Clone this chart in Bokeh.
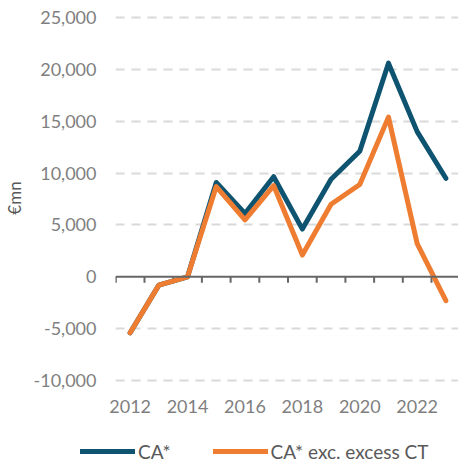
from bokeh.plotting import figure
from bokeh.models import (Range1d, FixedTicker, NumeralTickFormatter,
                          Legend, LegendItem, Span)
from bokeh.embed import file_html
from bokeh.resources import INLINE

years = [2012, 2013, 2014, 2015, 2016, 2017, 2018, 2019, 2020, 2021, 2022, 2023]
ca = [-5400, -800, 0, 9100, 6100, 9650, 4600, 9400, 12100, 20600, 14000, 9500]
ca_exc = [-5400, -800, 0, 8700, 5500, 8800, 2100, 7000, 8900, 15400, 3200, -2300]
label_years = [2012, 2014, 2016, 2018, 2020, 2022]
y_ticks = [-10000, -5000, 0, 5000, 10000, 15000, 20000, 25000]
names = ["CA*", "CA* exc. excess CT"]
colors = ["#0e5470", "#ee7d31"]

FONT = "Lato"
TICK_COLOR = "#7f7f7f"
TEXT_COLOR = "#595959"
AXIS_COLOR = "#666666"

Y_MIN, Y_MAX = -10480, 25680
FRAME_H = 375
units_per_px = (Y_MAX - Y_MIN) / FRAME_H

p = figure(width=458, height=420, output_backend="svg",
           toolbar_location=None,
           x_range=Range1d(years[0] - 0.51, years[-1] + 0.44),
           y_range=Range1d(Y_MIN, Y_MAX),
           min_border_left=107, min_border_right=0, min_border_top=10,
           min_border_bottom=35)
p.outline_line_color = None
p.background_fill_color = "white"
p.border_fill_color = "white"

# y axis
ya = p.yaxis[0]
ya.ticker = FixedTicker(ticks=y_ticks)
ya.formatter = NumeralTickFormatter(format="0,0")
ya.axis_line_color = None
ya.major_tick_line_color = None
ya.minor_tick_line_color = None
ya.major_label_text_font = FONT
ya.major_label_text_font_size = "18px"
ya.major_label_text_color = TICK_COLOR
ya.major_label_standoff = 13
ya.axis_label = "€mn"
ya.axis_label_text_font = FONT
ya.axis_label_text_font_size = "17px"
ya.axis_label_text_font_style = "normal"
ya.axis_label_text_color = TEXT_COLOR
ya.axis_label_standoff = 6

p.ygrid.ticker = FixedTicker(ticks=[t for t in y_ticks if t != 0])
p.ygrid.grid_line_color = "#d9d9d9"
p.ygrid.grid_line_width = 2
p.ygrid.grid_line_dash = "9 7"
p.xgrid.grid_line_color = None

# x axis labels (bottom)
xa = p.xaxis[0]
xa.ticker = FixedTicker(ticks=label_years)
xa.axis_line_color = None
xa.major_tick_line_color = None
xa.minor_tick_line_color = None
xa.major_label_text_font = FONT
xa.major_label_text_font_size = "18px"
xa.major_label_text_color = TICK_COLOR
xa.major_label_standoff = 8

# zero line with category boundary ticks
p.add_layout(Span(location=0, dimension="width", line_color=AXIS_COLOR,
                  line_width=2))
bounds = [y - 0.5 for y in years] + [years[-1] + 0.5]
p.segment(x0=bounds, y0=[0] * len(bounds), x1=bounds,
          y1=[-6 * units_per_px] * len(bounds), line_color=AXIS_COLOR,
          line_width=2)

line_style = dict(line_width=5, line_join="round", line_cap="round")
p.line(years, ca, line_color=colors[0], **line_style)
p.line(years, ca_exc, line_color=colors[1], **line_style)

# legend strip (its own small figure, lines kept outside its view)
lg = figure(width=458, height=45, output_backend="svg", toolbar_location=None,
            x_range=Range1d(0, 1), y_range=Range1d(0, 1),
            x_axis_location=None, y_axis_location=None,
            min_border=0)
lg.outline_line_color = None
lg.background_fill_color = "white"
lg.border_fill_color = "white"
lg.grid.visible = False
g1 = lg.line(years, ca, line_color=colors[0], **line_style)
g2 = lg.line(years, ca_exc, line_color=colors[1], **line_style)
legend = Legend(items=[LegendItem(label=names[0], renderers=[g1]),
                       LegendItem(label=names[1], renderers=[g2])],
                orientation="horizontal", location=(80, 2),
                glyph_width=55, glyph_height=24, label_standoff=3, spacing=42,
                label_text_font=FONT, label_text_font_size="19px",
                label_text_color=TEXT_COLOR, label_height=24,
                border_line_color=None,
                background_fill_alpha=0, padding=0, margin=0)
lg.add_layout(legend)

open("out.html", "w").write(file_html([p, lg], INLINE))
